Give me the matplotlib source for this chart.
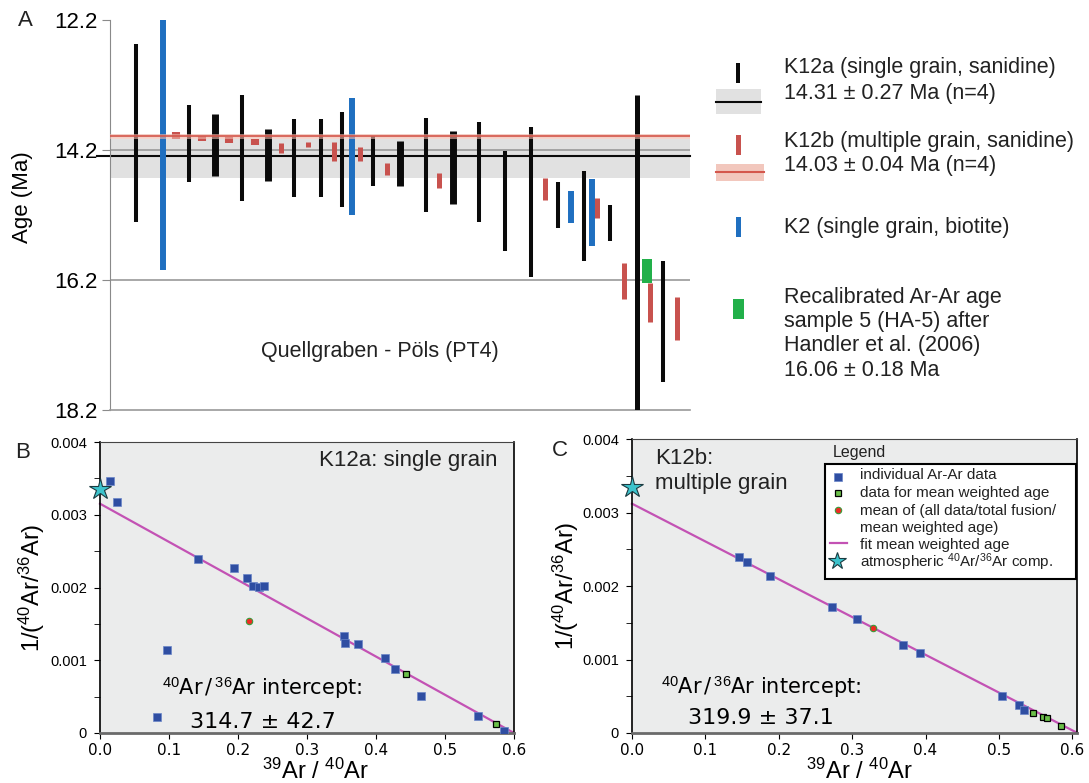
import matplotlib.pyplot as plt
import numpy as np
from matplotlib.patches import Rectangle

plt.rcParams['font.family'] = ['Liberation Sans', 'DejaVu Sans']
plt.rcParams['mathtext.fontset'] = 'custom'
plt.rcParams['mathtext.rm'] = 'Liberation Sans'
plt.rcParams['mathtext.it'] = 'Liberation Sans:italic'
plt.rcParams['mathtext.bf'] = 'Liberation Sans:bold'

# ---- Panel A: single ages (Ma), centre and half error ----
k12a_pos = [2.0, 6.0, 7.95, 10.0, 11.97, 13.94, 15.98, 17.58, 19.92, 21.97,
            23.94, 25.98, 27.95, 29.92, 31.89, 33.94, 35.91, 37.88, 39.92, 41.89]
k12a_age = [13.94, 14.10, 14.12, 14.17, 14.28, 14.32, 14.32, 14.35, 14.37, 14.41,
            14.43, 14.47, 14.54, 14.98, 15.00, 15.05, 15.22, 15.32, 15.78, 16.84]
k12a_err = [1.37, 0.59, 0.48, 0.82, 0.40, 0.60, 0.60, 0.73, 0.38, 0.35,
            0.72, 0.56, 0.77, 0.77, 1.15, 0.35, 0.69, 0.28, 2.42, 0.93]
k12a_thick = [2, 4, 9, 11]

k12b_pos = [5.0, 6.97, 9.02, 10.98, 12.95, 15.0, 16.97, 18.94, 20.98, 24.92,
            32.95, 36.89, 38.94, 40.91, 42.88]
k12b_age = [13.98, 14.02, 14.05, 14.08, 14.17, 14.12, 14.22, 14.26, 14.49, 14.67,
            14.80, 15.09, 16.22, 16.55, 16.79]
k12b_err = [0.05, 0.04, 0.05, 0.05, 0.08, 0.04, 0.15, 0.11, 0.09, 0.12,
            0.17, 0.15, 0.28, 0.30, 0.33]

k2_pos = [4.02, 18.33, 34.92, 36.52]
k2_age = [14.12, 14.30, 15.08, 15.16]
k2_err = [1.92, 0.90, 0.25, 0.52]

ha5_pos = [40.68]
ha5_age = [16.06]
ha5_err = [0.18]

k12a_mean = 14.29
k12a_band = (14.03, 14.63)
k12b_mean = 13.99
k12b_mean_err = 0.04
ref_lines = [14.2, 16.2]
age_ticks = [12.2, 14.2, 16.2, 18.2]

# ---- Panel B: K12a isochron ----
b_blue_x = [0.014, 0.024, 0.1425, 0.1945, 0.2125, 0.2215, 0.230, 0.2375, 0.354, 0.355,
            0.3735, 0.4135, 0.428, 0.4655, 0.548, 0.585, 0.097, 0.083]
b_blue_y = [0.00346, 0.00318, 0.002387, 0.002263, 0.002131, 0.00202, 0.002007, 0.00202,
            0.001329, 0.001237, 0.001228, 0.001026, 0.000884, 0.000513, 0.000234,
            0.000023, 0.001141, 0.000225]
b_green_x = [0.4435, 0.5745]
b_green_y = [0.000816, 0.000119]
b_mean = (0.216, 0.00154)
b_fit = (0.003152, 0.600)   # y intercept, x intercept

# ---- Panel C: K12b isochron ----
c_blue_x = [0.1455, 0.1564, 0.1884, 0.2719, 0.3062, 0.3687, 0.3925, 0.5037, 0.528, 0.5347]
c_blue_y = [0.00239, 0.002327, 0.00214, 0.001714, 0.001551, 0.001197, 0.001088,
            0.000508, 0.000381, 0.000317]
c_green_x = [0.547, 0.5595, 0.5652, 0.5843]
c_green_y = [0.000277, 0.000218, 0.0002, 0.0000907]
c_mean = (0.3281, 0.001424)
c_fit = (0.00312, 0.607)

atm = (0.0, 0.00335)

W, H = 1089, 783
fig = plt.figure(figsize=(W / 100, H / 100), dpi=100)

BLACK = '#0a0a0a'
BLUE = '#1f6fc0'
RED = '#c8524e'
GREEN = '#22b04a'
GREYBAND = '#e1e1e1'
PINK = '#efb9ad'
REDLINE = '#d4574c'

# ================= Panel A =================
axA = fig.add_axes([110 / W, 1 - 410 / H, 580 / W, 390 / H])
axA.set_xlim(0, 43.9)
axA.set_ylim(18.2, 12.2)
axA.axhspan(*k12a_band, color=GREYBAND, lw=0, zorder=1)
for yl in ref_lines:
    axA.axhline(yl, color='#9a9a9a', lw=1.2, zorder=1.5)
axA.axhline(k12a_mean, xmin=-0.022, color=BLACK, lw=1.5, zorder=2, clip_on=False)

a_pos = np.array(k12a_pos)
a_age = np.array(k12a_age)
a_err = np.array(k12a_err)
a_lw = np.full(len(a_pos), 2.9)
a_lw[k12a_thick] = 5.0
a_lw[18] = 3.6
axA.vlines(a_pos, a_age - a_err, a_age + a_err, colors=BLACK, lw=a_lw, zorder=3)

b_pos = np.array(k12b_pos)
b_age = np.array(k12b_age)
b_err = np.array(k12b_err)
b_lw = np.full(len(b_pos), 3.6)
b_lw[:4] = 5.8
axA.vlines(b_pos, b_age - b_err, b_age + b_err, colors=RED, lw=b_lw, zorder=3)

k_age = np.array(k2_age)
k_err = np.array(k2_err)
axA.vlines(k2_pos, k_age - k_err, k_age + k_err, colors=BLUE, lw=4.3, zorder=3)

h_age = np.array(ha5_age)
h_err = np.array(ha5_err)
axA.vlines(ha5_pos, h_age - h_err, h_age + h_err, colors=GREEN, lw=7.2, zorder=4)

axA.axhspan(k12b_mean - k12b_mean_err, k12b_mean + k12b_mean_err, color=PINK,
            alpha=0.6, lw=0, zorder=5)
axA.axhline(k12b_mean, color=REDLINE, lw=1.5, alpha=0.85, zorder=5)

axA.text(0.465, 0.15, 'Quellgraben - Pöls (PT4)', transform=axA.transAxes,
         ha='center', va='center', fontsize=15.5, color='#222222')

for s in ['top', 'right']:
    axA.spines[s].set_visible(False)
axA.spines['left'].set_color('#8a8a8a')
axA.spines['bottom'].set_color('#9a9a9a')
axA.spines['bottom'].set_linewidth(1.2)
axA.set_xticks([])
axA.set_yticks(age_ticks)
axA.set_yticklabels([f'{t:.1f}' for t in age_ticks], fontsize=16)
axA.tick_params(axis='y', length=6, color='#8a8a8a', pad=3)
axA.set_ylabel('Age (Ma)', fontsize=16)
axA.yaxis.set_label_coords(-0.133, 0.546)


# ================= Panels B, C =================
def iso_panel(rect, xmax, bx, by, gx, gy, mean, fit):
    ax = fig.add_axes(rect)
    ax.set_facecolor('#ebecec')
    ax.set_xlim(0, xmax)
    ax.set_ylim(0, 0.004)
    xs = np.array([0.0, fit[1]])
    ax.plot(xs, fit[0] * (1 - xs / fit[1]), color='#c352b4', lw=1.6, zorder=2,
            clip_on=False)
    ax.plot(gx, gy, 's', ms=4.6, mfc='#6cc04a', mec='black', mew=0.9, zorder=3)
    ax.plot(bx, by, 's', ms=5.6, mfc='#2f4ea2', mec='#6a86c8', mew=0.5, zorder=4)
    ax.plot(*mean, 'o', ms=4.6, mfc='#ee2b24', mec='#3a9a3a', mew=0.8, zorder=5)
    ax.plot(*atm, '*', ms=16, mfc='#3cc3cc', mec='#1a3a40', mew=0.8, zorder=6,
            clip_on=False)
    ax.set_xticks(np.arange(0, 0.61, 0.1))
    ax.set_xticklabels([f'{v:.1f}' for v in np.arange(0, 0.61, 0.1)],
                       fontsize=11, family='DejaVu Sans')
    ax.set_yticks([0, 0.001, 0.002, 0.003, 0.004])
    ax.set_yticklabels(['0', '0.001', '0.002', '0.003', '0.004'], fontsize=10.5)
    ax.set_yticks(np.arange(0, 0.0041, 0.0005), minor=True)
    ax.tick_params(axis='y', which='major', direction='out', length=4, pad=5.5)
    ax.tick_params(axis='y', which='minor', direction='out', length=4)
    ax.tick_params(axis='x', direction='out', length=4, pad=3)
    ax.spines['left'].set_linewidth(1.2)
    ax.spines['right'].set_linewidth(1.2)
    ax.spines['top'].set_color('#444444')
    ax.spines['bottom'].set_color('#6a6a6a')
    ax.spines['bottom'].set_linewidth(2)
    ax.set_ylabel(r'1/($^{40}$Ar/$^{36}$Ar)', fontsize=17)
    ax.set_xlabel(r'$^{39}$Ar / $^{40}$Ar', fontsize=17)
    return ax


axB = iso_panel([100 / W, 1 - 733 / H, 414 / W, 291 / H], 0.6,
                b_blue_x, b_blue_y, b_green_x, b_green_y, b_mean, b_fit)
axB.yaxis.set_label_coords(-0.129, 0.5)
axB.xaxis.set_label_coords(0.52, -0.088)
axB.text(0.959, 0.938, 'K12a: single grain', transform=axB.transAxes,
         ha='right', va='center', fontsize=16, color='#222222')
axB.text(0.149, 0.155, r'$^{40}$Ar$\,$/$\,^{36}$Ar intercept:', transform=axB.transAxes,
         ha='left', va='center', fontsize=15, family='DejaVu Sans')
axB.text(0.218, 0.038, '314.7 ± 42.7', transform=axB.transAxes,
         ha='left', va='center', fontsize=16, family='DejaVu Sans')

axC = iso_panel([632 / W, 1 - 733 / H, 444.5 / W, 294 / H], 0.6057,
                c_blue_x, c_blue_y, c_green_x, c_green_y, c_mean, c_fit)
axC.yaxis.set_label_coords(-0.114, 0.5)
axC.xaxis.set_label_coords(0.512, -0.087)
axC.text(0.052, 0.935, 'K12b:', transform=axC.transAxes,
         ha='left', va='center', fontsize=16, color='#222222')
axC.text(0.052, 0.85, 'multiple grain', transform=axC.transAxes,
         ha='left', va='center', fontsize=16, color='#222222')
axC.text(0.066, 0.156, r'$^{40}$Ar$\,$/$\,^{36}$Ar intercept:', transform=axC.transAxes,
         ha='left', va='center', fontsize=15, family='DejaVu Sans')
axC.text(0.127, 0.051, '319.9 ± 37.1', transform=axC.transAxes,
         ha='left', va='center', fontsize=16, family='DejaVu Sans')

# ================= overlay: panel letters and legends =================
ov = fig.add_axes([0, 0, 1, 1], zorder=10)
ov.set_xlim(0, W)
ov.set_ylim(H, 0)
ov.axis('off')
ov.patch.set_alpha(0)

for lab, x, y in [('A', 25, 20), ('B', 23, 452), ('C', 560, 451)]:
    ov.text(x, y, lab, fontsize=16, ha='center', va='center', color='#222222')

# legend of panel A
ov.add_patch(Rectangle((736, 63), 4, 20, color=BLACK, lw=0))
ov.add_patch(Rectangle((716, 89), 45, 25, color=GREYBAND, lw=0))
ov.plot([716, 761], [102, 102], color=BLACK, lw=1.5)
ov.add_patch(Rectangle((736, 135), 5, 20, color=RED, lw=0))
ov.add_patch(Rectangle((716, 164), 48, 17, color=PINK, alpha=0.8, lw=0))
ov.plot([716, 764], [172, 172], color=REDLINE, lw=1.5)
ov.add_patch(Rectangle((736, 217), 5, 20, color=BLUE, lw=0))
ov.add_patch(Rectangle((733, 299), 11, 20, color=GREEN, lw=0))
legA = [(68, 'K12a (single grain, sanidine)'), (93, '14.31 ± 0.27 Ma (n=4)'),
        (141, 'K12b (multiple grain, sanidine)'), (166, '14.03 ± 0.04 Ma (n=4)'),
        (228, 'K2 (single grain, biotite)'),
        (297, 'Recalibrated Ar-Ar age'), (322, 'sample 5 (HA-5) after'),
        (346, 'Handler et al. (2006)'), (370, '16.06 ± 0.18 Ma')]
for y, t in legA:
    ov.text(784, y, t, fontsize=15.5, ha='left', va='center', color='#222222')

# legend of panel C
ov.text(833, 452, 'Legend', fontsize=11.5, ha='left', va='center', color='#222222')
ov.add_patch(Rectangle((825, 464), 251, 115, fc='white', ec='black', lw=1.5))
ov.plot(838, 477, 's', ms=5.2, mfc='#2f4ea2', mec='#6a86c8', mew=0.5)
ov.plot(838, 493, 's', ms=4.6, mfc='#6cc04a', mec='black', mew=0.9)
ov.plot(838, 510, 'o', ms=4.6, mfc='#ee2b24', mec='#3a9a3a', mew=0.8)
ov.plot([830, 847], [543, 543], color='#c352b4', lw=1.6)
ov.plot(837, 561, '*', ms=13, mfc='#3cc3cc', mec='#1a3a40', mew=0.8)
legC = [(475, 'individual Ar-Ar data'), (493, 'data for mean weighted age'),
        (511, 'mean of (all data/total fusion/'), (528, 'mean weighted age)'),
        (545, 'fit mean weighted age'),
        (562, r'atmospheric $^{40}$Ar/$^{36}$Ar comp.')]
for y, t in legC:
    ov.text(860, y, t, fontsize=11, ha='left', va='center', color='#222222')

fig.savefig('out.png', dpi=100)
